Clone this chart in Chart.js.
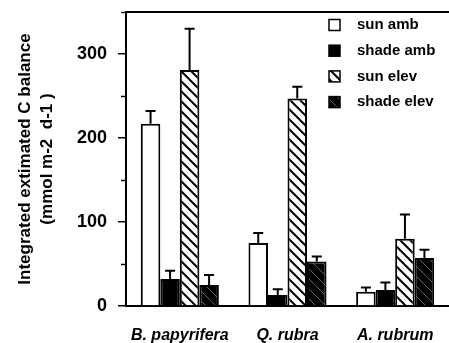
<!DOCTYPE html>
<html>
<head>
<meta charset="utf-8">
<script src="https://cdn.jsdelivr.net/npm/chart.js@4.4.0/dist/chart.umd.min.js"></script>
<style>
html, body { margin: 0; padding: 0; background: #fff; }
</style>
</head>
<body>
<canvas id="chart" width="449" height="343"></canvas>
<script>
// Data
const species = ['B. papyrifera', 'Q. rubra', 'A. rubrum'];
const seriesNames = ['sun amb', 'shade amb', 'sun elev', 'shade elev'];
const sunAmb = [217, 75, 17];
const shadeAmb = [32, 13, 19];
const sunElev = [281, 247, 80];
const shadeElev = [25, 53, 57];
const sunAmbErr = [15, 12, 5];
const shadeAmbErr = [10, 7, 9];
const sunElevErr = [49, 14, 29];
const shadeElevErr = [12, 6, 10];
const yTitle = ['Integrated extimated C balance', '(mmol m-2  d-1 )'];

const FONT = '"Liberation Sans", Arial, Helvetica, sans-serif';

// Diagonal hatch pattern (lines from top-left to bottom-right)
function stripes(bg, fg, w) {
    const c = document.createElement('canvas');
    c.width = 10;
    c.height = 10;
    const g = c.getContext('2d');
    g.fillStyle = bg;
    g.fillRect(0, 0, 10, 10);
    g.strokeStyle = fg;
    g.lineWidth = w;
    g.beginPath();
    g.moveTo(-1, -1); g.lineTo(11, 11);
    g.moveTo(-1, 9); g.lineTo(1, 11);
    g.moveTo(9, -1); g.lineTo(11, 1);
    g.stroke();
    return g.createPattern(c, 'repeat');
}

const fills = ['#ffffff', '#000000', stripes('#ffffff', '#000000', 2), stripes('#000000', '#666666', 1)];
const values = [sunAmb, shadeAmb, sunElev, shadeElev];
const errors = [sunAmbErr, shadeAmbErr, sunElevErr, shadeElevErr];

// Upward error bars with caps
const errorBars = {
    id: 'errorBars',
    afterDatasetsDraw(chart) {
        const ctx = chart.ctx;
        const y = chart.scales.y;
        ctx.save();
        ctx.strokeStyle = '#000';
        ctx.lineWidth = 2;
        chart.data.datasets.forEach((ds, i) => {
            chart.getDatasetMeta(i).data.forEach((bar, j) => {
                const top = y.getPixelForValue(ds.data[j] + ds.errors[j]);
                ctx.beginPath();
                ctx.moveTo(bar.x, bar.y);
                ctx.lineTo(bar.x, top);
                ctx.moveTo(bar.x - 5, top);
                ctx.lineTo(bar.x + 5, top);
                ctx.stroke();
            });
        });
        ctx.restore();
    }
};

// Top frame line, minor ticks and the legend box
const extras = {
    id: 'extras',
    afterDraw(chart) {
        const ctx = chart.ctx;
        const area = chart.chartArea;
        const y = chart.scales.y;
        ctx.save();
        ctx.strokeStyle = '#000';
        ctx.lineWidth = 2;
        ctx.beginPath();
        ctx.moveTo(area.left, area.top);
        ctx.lineTo(area.right, area.top);
        ctx.stroke();

        ctx.lineWidth = 1.5;
        y.ticks.forEach(t => {
            if (t.value % 100 === 0) return;
            const py = Math.round(y.getPixelForValue(t.value)) + 0.5;
            ctx.beginPath();
            ctx.moveTo(area.left - 5, py);
            ctx.lineTo(area.left, py);
            ctx.stroke();
        });

        ctx.font = 'bold 15px ' + FONT;
        ctx.textBaseline = 'middle';
        ctx.textAlign = 'left';
        chart.data.datasets.forEach((ds, i) => {
            const cy = 25 + i * 25.7;
            ctx.fillStyle = ds.backgroundColor;
            ctx.fillRect(329, cy - 5.5, 11, 11);
            ctx.lineWidth = 1.5;
            ctx.strokeRect(329, cy - 5.5, 11, 11);
            ctx.fillStyle = '#000';
            ctx.fillText(ds.label, 357, cy);
        });
        ctx.restore();
    }
};

new Chart(document.getElementById('chart'), {
    type: 'bar',
    data: {
        labels: species,
        datasets: seriesNames.map((name, i) => ({
            label: name,
            data: values[i],
            errors: errors[i],
            backgroundColor: fills[i],
            borderColor: '#000',
            borderWidth: 2,
            categoryPercentage: 0.725,
            barPercentage: 1
        }))
    },
    options: {
        responsive: false,
        animation: false,
        layout: { padding: { top: 12, left: 0, right: 0, bottom: 0 } },
        plugins: {
            legend: { display: false },
            tooltip: { enabled: false }
        },
        scales: {
            x: {
                grid: { display: false, drawTicks: false },
                border: { display: true, color: '#000', width: 2 },
                ticks: {
                    color: '#000',
                    padding: 20,
                    font: { family: FONT, size: 16, weight: 'bold', style: 'italic' }
                },
                afterFit(scale) {
                    scale.height = 37;
                    scale.paddingLeft = 0;
                    scale.paddingRight = 0;
                }
            },
            y: {
                min: 0,
                max: 350,
                border: { display: true, color: '#000', width: 2 },
                grid: {
                    drawOnChartArea: false,
                    tickLength: 8,
                    lineWidth: 1.5,
                    tickColor: c => (c.tick && c.tick.value % 100 === 0) ? '#000' : 'rgba(0,0,0,0)'
                },
                ticks: {
                    stepSize: 25,
                    color: '#000',
                    padding: 11,
                    font: { family: FONT, size: 18, weight: 'bold' },
                    callback: v => (v % 100 === 0 ? String(v) : '')
                },
                title: {
                    display: true,
                    text: yTitle,
                    color: '#000',
                    padding: { top: 14, bottom: 0 },
                    font: { family: FONT, size: 17, weight: 'bold', lineHeight: 22 / 17 }
                },
                afterFit(scale) {
                    scale.width = 126;
                    scale.paddingTop = 0;
                    scale.paddingBottom = 0;
                }
            }
        }
    },
    plugins: [errorBars, extras]
});
</script>
</body>
</html>
